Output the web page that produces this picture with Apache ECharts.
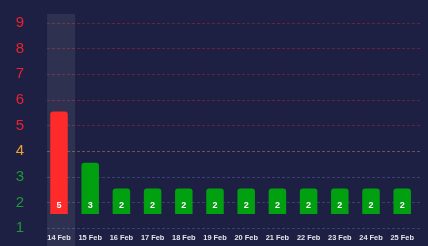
<!DOCTYPE html>
<html><head><meta charset="utf-8">
<script src="https://cdn.jsdelivr.net/npm/echarts@6/dist/echarts.min.js"></script>
<style>html,body{margin:0;padding:0;background:#1e2043;}#c{width:428px;height:246px;}</style>
</head><body><div id="c"></div>
<script>
const categories = ['14 Feb','15 Feb','16 Feb','17 Feb','18 Feb','19 Feb','20 Feb','21 Feb','22 Feb','23 Feb','24 Feb','25 Feb'];
const values = [5,3,2,2,2,2,2,2,2,2,2,2];
const yTicks = [1,2,3,4,5,6,7,8,9];
const highlighted = ['14 Feb'];

const levelColor = v => { v = Number(v); return v >= 5 ? '#e8222f' : (v === 4 ? '#e9a23b' : '#1b9b35'); };
const lineColor = v => v >= 5 ? 'rgba(190,40,60,0.45)' : (v === 4 ? 'rgba(190,150,100,0.45)' : 'rgba(80,90,150,0.55)');
const barColor = v => v >= 5 ? '#ff2b2b' : '#00a010';

const chart = echarts.init(document.getElementById('c'), null, {renderer:'canvas'});
chart.setOption({
  backgroundColor: '#1e2043',
  animation: false,
  grid: [
    {left: 47, right: 8, top: 23, bottom: 18},
    {left: 43.4, right: 10.2, top: 9, bottom: 32},
    {left: 45.55, right: 8.05, top: 14, bottom: 0}
  ],
  xAxis: [
    {type:'category', gridIndex:0, data:categories, show:false},
    {type:'category', gridIndex:1, data:categories,
      axisLine:{show:false}, axisTick:{show:false},
      axisLabel:{color:'#e4e4ec', fontSize:7.4, fontWeight:'bold', fontFamily:'Liberation Sans, Arial', margin:20.5, interval:0}},
    {type:'category', gridIndex:2, data:categories, show:false}
  ],
  yAxis: [
    {type:'value', gridIndex:0, min:yTicks[0], max:yTicks[yTicks.length-1], interval:1,
      axisLine:{show:false}, axisTick:{show:false},
      axisLabel:{fontSize:15, fontFamily:'Liberation Sans, Arial', margin:27, align:'center', verticalAlign:'middle',
        color: v => levelColor(v)},
      splitLine:{show:true, lineStyle:{type:[3,2], width:1, color: yTicks.map(lineColor)}}},
    {type:'value', gridIndex:1, min:1, max:9, show:false, splitLine:{show:false}},
    {type:'value', gridIndex:2, min:0, max:1, show:false, splitLine:{show:false}}
  ],
  series: [
    {type:'bar', xAxisIndex:2, yAxisIndex:2, barWidth:28, z:0, silent:true,
      data: categories.map(c => highlighted.includes(c) ? 1 : '-'),
      itemStyle:{color:'rgba(255,255,255,0.08)'}},
    {type:'bar', xAxisIndex:1, yAxisIndex:1, barWidth:17.5, z:3,
      data: values.map(v => ({value:v, itemStyle:{color:barColor(v), borderRadius:[3,3,0,0]}})),
      label:{show:true, position:'insideBottom', distance:4, color:'#ffffff', fontSize:9, fontWeight:'bold', fontFamily:'Liberation Sans, Arial'}}
  ]
});
</script>
</body></html>
